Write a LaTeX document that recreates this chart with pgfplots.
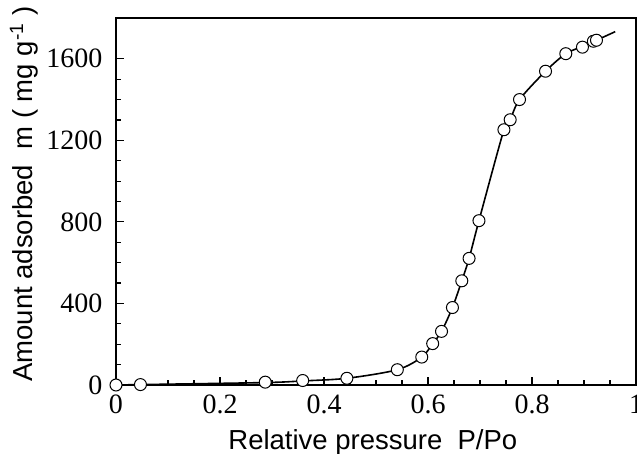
\documentclass[border=0pt]{standalone}
\usepackage{fontspec}
\setmainfont{Liberation Serif}
\newfontfamily\arialfont{Liberation Sans}
\usepackage{pgfplots}
\pgfplotsset{compat=1.18}

% isotherm points
\pgfplotstableread{
x      y
0.000  0
0.047  2
0.287  14
0.359  22
0.444  33
0.541  75
0.588  137
0.609  203
0.626  263
0.647  380
0.665  511
0.679  621
0.698  806
0.746  1252
0.758  1301
0.776  1400
0.826  1539
0.865  1625
0.897  1657
0.918  1686
0.924  1691
}\isotherm

\pgfplotstableread{
x      y
0.000  0
0.047  2
0.287  12
0.359  20
0.444  33
0.541  75
0.588  137
0.609  203
0.626  263
0.647  380
0.665  511
0.679  621
0.698  806
0.746  1252
0.758  1301
0.776  1400
0.826  1539
0.865  1625
0.897  1660
0.924  1691
0.960  1733
}\fitcurve

\begin{document}
\begin{tikzpicture}
\useasboundingbox (-116pt,-68pt) rectangle (521pt,385pt);
\begin{axis}[
    scale only axis,
    width=520pt, height=367pt,
    xmin=0, xmax=1,
    ymin=0, ymax=1800,
    xtick={0,0.2,0.4,0.6,0.8,1},
    xticklabels={0,0.2,0.4,0.6,0.8,1},
    ytick={0,400,800,1200,1600},
    yticklabels={0,400,800,1200,1600},
    minor x tick num=3,
    minor y tick num=3,
    tick align=inside,
    xtick pos=bottom, ytick pos=left,
    major tick length=8pt,
    minor tick length=5pt,
    every tick/.style={black, line width=1.2pt},
    axis line style={line width=2.6pt},
    tick label style={font=\fontsize{28}{28}\selectfont},
    yticklabel style={xshift=-10pt},
    xticklabel style={yshift=-6pt},
    xlabel={Relative pressure\ \ P/Po},
    ylabel={Amount adsorbed\ \ m ( mg g\textsuperscript{-1} )},
    label style={font=\arialfont\fontsize{27.5}{27.5}\selectfont},
    xlabel style={at={(axis description cs:0.494,-0.177)}, anchor=base},
    ylabel style={at={(axis description cs:-0.177,0.52)}, anchor=center},
]
\addplot[black, line width=1.6pt, smooth, tension=0.5] table[x=x, y=y] {\fitcurve};
\addplot[only marks, mark=*, mark size=6pt,
    mark options={fill=white, draw=black, line width=1pt}] table[x=x, y=y] {\isotherm};
\end{axis}
\end{tikzpicture}
\end{document}
